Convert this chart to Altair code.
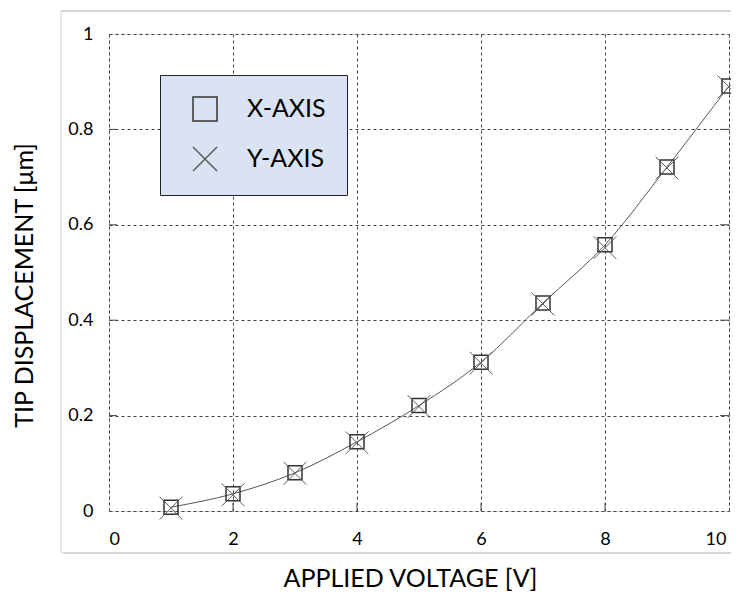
import altair as alt
import pandas as pd

voltage = [1, 2, 3, 4, 5, 6, 7, 8, 9, 10]
x_axis_disp = [0.008, 0.036, 0.080, 0.145, 0.221, 0.312, 0.436, 0.558, 0.721, 0.891]
y_axis_disp = [0.006, 0.034, 0.079, 0.143, 0.219, 0.310, 0.434, 0.552, 0.719, 0.889]
series_names = ["X-AXIS", "Y-AXIS"]
x_ticks = [0, 2, 4, 6, 8, 10]
y_ticks = [0, 0.2, 0.4, 0.6, 0.8, 1]
inner_x = [2, 4, 6, 8]
inner_y = [0.2, 0.4, 0.6, 0.8]

sq_df = pd.DataFrame({"v": voltage, "d": x_axis_disp, "series": series_names[0]})
cr_df = pd.DataFrame({"v": voltage, "d": y_axis_disp, "series": series_names[1]})
line_df = pd.DataFrame({"v": voltage, "d": x_axis_disp})
ix_df = pd.DataFrame({"v": inner_x})
iy_df = pd.DataFrame({"d": inner_y})

FONT = "Lato"
xs = alt.Scale(domain=[0, 10], nice=False, zero=False)
ys = alt.Scale(domain=[0, 1], nice=False)

x_axis = alt.Axis(values=x_ticks, title="APPLIED VOLTAGE [V]", format="~g",
                  labelFont=FONT, labelFontSize=18, labelColor="#000", labelPadding=19,
                  labelOffset={"condition": {"test": "datum.value == 10", "value": -3}, "value": 0},
                  ticks=False, domain=False, grid=True, gridColor="#444",
                  gridDash=[3, 3], gridWidth=1,
                  titleFont=FONT, titleFontSize=25, titleFontWeight="normal", titleColor="#000",
                  titleX=301, titleY=67, titleBaseline="middle", titleAlign="center")
y_axis = alt.Axis(values=y_ticks, title="TIP DISPLACEMENT [μm]", format="~g",
                  labelFont=FONT, labelFontSize=18, labelColor="#000", labelPadding=16,
                  ticks=False, domain=False, grid=True, gridColor="#444",
                  gridDash=[3, 3], gridWidth=1,
                  titleFont=FONT, titleFontSize=25, titleFontWeight="normal", titleColor="#000",
                  titleX=-85, titleY=251, titleBaseline="middle", titleAlign="center")

legend = alt.Legend(
    title=None, orient="none", legendX=51, legendY=41,
    fillColor="#dae3f3", strokeColor="#222",
    padding=21, symbolOffset=11, symbolSize=576, symbolStrokeWidth=1.5,
    labelFont=FONT, labelFontSize=25, labelColor="#000", labelOffset=29,
    rowPadding=20,
)

shape_scale = alt.Scale(domain=series_names, range=["square", "M-1,-1L1,1M1,-1L-1,1"])
stroke_scale = alt.Scale(domain=series_names, range=["#333333", "#5a5a5a"])

line = alt.Chart(line_df).mark_line(color="#555", strokeWidth=1, interpolate="monotone").encode(
    x=alt.X("v:Q", scale=xs, axis=x_axis),
    y=alt.Y("d:Q", scale=ys, axis=y_axis),
)

squares = alt.Chart(sq_df).mark_point(filled=False, opacity=1, size=196, strokeWidth=1.5).encode(
    x=alt.X("v:Q", scale=xs),
    y=alt.Y("d:Q", scale=ys),
    shape=alt.Shape("series:N", scale=shape_scale, legend=legend),
    stroke=alt.Stroke("series:N", scale=stroke_scale, legend=legend),
)
crosses = alt.Chart(cr_df).mark_point(filled=False, opacity=1, size=520, strokeWidth=1).encode(
    x=alt.X("v:Q", scale=xs),
    y=alt.Y("d:Q", scale=ys),
    shape=alt.Shape("series:N", scale=shape_scale, legend=legend),
    stroke=alt.Stroke("series:N", scale=stroke_scale, legend=legend),
)

left_ticks = alt.Chart(iy_df).mark_rule(color="#444", strokeWidth=1).encode(
    y=alt.Y("d:Q", scale=ys), x=alt.value(0), x2=alt.value(8))
right_ticks = alt.Chart(iy_df).mark_rule(color="#444", strokeWidth=1).encode(
    y=alt.Y("d:Q", scale=ys), x=alt.value(611), x2=alt.value(620))
bottom_ticks = alt.Chart(ix_df).mark_rule(color="#444", strokeWidth=1).encode(
    x=alt.X("v:Q", scale=xs), y=alt.value(469), y2=alt.value(477))

frame_top = alt.Chart(ix_df).mark_rule(color="#d4d4d4", strokeWidth=1).encode(
    x=alt.value(-48), x2=alt.value(640), y=alt.value(-23))
frame_left = alt.Chart(ix_df).mark_rule(color="#e4e4e4", strokeWidth=1).encode(
    x=alt.value(-48), y=alt.value(-23), y2=alt.value(519))
frame_bottom = alt.Chart(ix_df).mark_rule(color="#d4d4d4", strokeWidth=1).encode(
    x=alt.value(-46), x2=alt.value(640), y=alt.value(42 + 477))

chart = alt.layer(
    frame_top, frame_left, frame_bottom,
    line, left_ticks, right_ticks, bottom_ticks, squares, crosses
).properties(
    width=620, height=477,
    autosize=alt.AutoSizeParams(type="none"),
    padding={"left": 101, "top": 26, "right": 2, "bottom": 82},
).configure_view(
    stroke="#595959", strokeWidth=1.5
).configure_legend(
    strokeDash=[1, 1]
).configure(background="white")

chart.save("out.html", embed_options={"renderer": "svg", "actions": False})
